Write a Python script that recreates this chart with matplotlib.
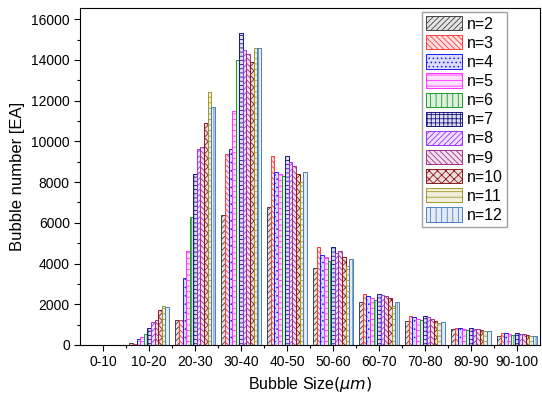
import matplotlib.pyplot as plt
import matplotlib.colors as mcolors
import numpy as np

plt.rcParams['font.family'] = ['Liberation Sans', 'DejaVu Sans']
plt.rcParams['hatch.linewidth'] = 0.6

# Data
bins = ['0-10', '10-20', '20-30', '30-40', '40-50', '50-60', '60-70', '70-80', '80-90', '90-100']
labels = ['n=2', 'n=3', 'n=4', 'n=5', 'n=6', 'n=7', 'n=8', 'n=9', 'n=10', 'n=11', 'n=12']

n2 = [20, 100, 1250, 6400, 6800, 3800, 2100, 1200, 800, 450]
n3 = [20, 60, 1250, 9400, 9300, 4800, 2500, 1400, 850, 600]
n4 = [20, 280, 3300, 9600, 8500, 4400, 2400, 1350, 850, 600]
n5 = [20, 400, 4600, 11500, 8400, 4300, 2300, 1300, 800, 550]
n6 = [20, 550, 6300, 14000, 8300, 4100, 2200, 1250, 750, 500]
n7 = [20, 850, 8400, 15300, 9300, 4800, 2500, 1400, 850, 600]
n8 = [20, 1150, 9600, 14500, 9000, 4500, 2450, 1350, 800, 550]
n9 = [20, 1250, 9700, 14300, 8800, 4600, 2400, 1300, 800, 550]
n10 = [20, 1700, 10900, 13900, 8400, 4300, 2300, 1200, 750, 500]
n11 = [20, 1900, 12400, 14600, 8000, 3900, 1900, 1100, 700, 450]
n12 = [20, 1850, 11700, 14600, 8500, 4200, 2100, 1150, 700, 450]
series = [n2, n3, n4, n5, n6, n7, n8, n9, n10, n11, n12]

colors = ['#444444', '#ff3b3b', '#1a1aff', '#ff33ff', '#1f9a2a', '#1a1a80',
          '#9a33ff', '#a0308a', '#8a1a1a', '#a09a20', '#4a7fbf']
hatches = ['//////', '\\\\\\\\\\\\', '....', '---', '|||', '++++',
           '//////', '\\\\\\\\\\\\', 'xxxx', '---', '|||']

x = np.arange(len(bins))
w = 0.078

fig = plt.figure(figsize=(5.42, 3.97), dpi=100)
ax = fig.add_axes([0.148, 0.131, 0.848, 0.849])

for i, (vals, c, h, lab) in enumerate(zip(series, colors, hatches, labels)):
    ax.bar(x + (i - 5) * w, vals, width=w, facecolor=mcolors.to_rgba(c, 0.15),
           edgecolor=c, hatch=h, linewidth=0.7, label=lab)

ax.set_xlim(-0.5, 9.5)
ax.set_ylim(0, 16550)
ax.set_xticks(x)
ax.set_xticklabels(bins, fontsize=10)
ax.set_xticks(x[:-1] + 0.5, minor=True)
ax.set_yticks(np.arange(0, 16001, 2000))
ax.set_yticks(np.arange(1000, 16001, 2000), minor=True)
ax.tick_params(axis='y', labelsize=10)
ax.tick_params(which='major', direction='out', length=4, width=0.8)
ax.tick_params(which='minor', direction='out', length=2.5, width=0.8)

ax.set_ylabel('Bubble number [EA]', fontsize=12)
ax.set_xlabel(r'Bubble Size$(\mu m)$', fontsize=11.5)

leg = ax.legend(loc='upper right', bbox_to_anchor=(0.928, 0.988), fontsize=11.5,
                handlelength=2.25, handleheight=1.0, labelspacing=0.22,
                handletextpad=0.3, borderpad=0.25, borderaxespad=0,
                fancybox=False, edgecolor='#888888')
leg.get_frame().set_linewidth(1.0)

plt.savefig('out.png', dpi=100)
